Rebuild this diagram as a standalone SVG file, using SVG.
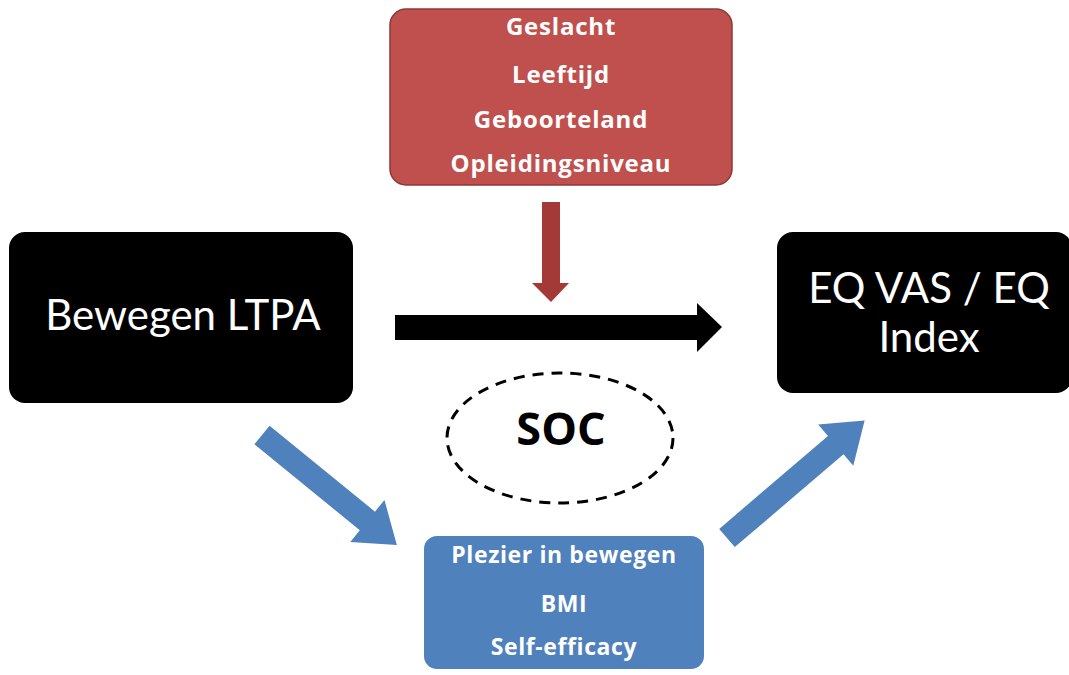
<svg xmlns="http://www.w3.org/2000/svg" width="1069" height="675" viewBox="0 0 1069 675">
<style>
.reg{font-family:Lato,"Open Sans","Liberation Sans",sans-serif;fill:#ffffff;text-anchor:middle}
.bold{font-family:"Open Sans",Lato,"Liberation Sans",sans-serif;font-weight:bold;fill:#ffffff;text-anchor:middle}
.blk{fill:#000000}
.blue{fill:#4f81bd}
</style>
<rect width="1069" height="675" fill="#ffffff"/>
<g id="confounders">
<rect x="390" y="9" width="342" height="176" rx="16" fill="#c0504d" stroke="#8c3836" stroke-width="1.5"/>
<text class="bold" x="561" y="35" font-size="24" letter-spacing="0.8">Geslacht</text>
<text class="bold" x="561" y="83" font-size="24" letter-spacing="0.8">Leeftijd</text>
<text class="bold" x="561" y="128" font-size="24" letter-spacing="0.8">Geboorteland</text>
<text class="bold" x="561" y="172" font-size="24" letter-spacing="0.8">Opleidingsniveau</text>
</g>
<g id="ltpa">
<rect x="9" y="232" width="344" height="171" rx="16" class="blk"/>
<text class="reg" x="183" y="330" font-size="42">Bewegen LTPA</text>
</g>
<g id="eq">
<rect x="777" y="232" width="295" height="161" rx="16" class="blk"/>
<text class="reg" x="929" y="303" font-size="42">EQ VAS / EQ</text>
<text class="reg" x="929" y="352" font-size="42">Index</text>
</g>
<g id="soc">
<ellipse cx="560" cy="438" rx="113" ry="65" fill="none" stroke="#000" stroke-width="3" stroke-dasharray="11,8"/>
<text x="561" y="445" font-size="45" font-weight="bold" font-family="'Open Sans',Lato,'Liberation Sans',sans-serif" text-anchor="middle" fill="#000">SOC</text>
</g>
<g id="mediators">
<rect x="423" y="535" width="282" height="135" rx="14" class="blue" stroke="#ffffff" stroke-width="2"/>
<text class="bold" x="564" y="563" font-size="23" letter-spacing="0.6">Plezier in bewegen</text>
<text class="bold" x="564" y="612" font-size="23" letter-spacing="0.6">BMI</text>
<text class="bold" x="564" y="655" font-size="23" letter-spacing="0.6">Self-efficacy</text>
</g>
<g id="connectors">
<path d="M542,202 H560 V283 H569 L551,302 L532,283 H542 Z" fill="#a33a37"/>
<path d="M395,315 H697 V303 L722,327 L697,352 V340 H395 Z" fill="#000"/>
<path transform="translate(262,435) rotate(39.2)" d="M0,-12 H136 V-27 L174,0 L136,27 V12 H0 Z" class="blue"/>
<path transform="translate(727,538) rotate(-40.5)" d="M0,-12 H143 V-27 L181,0 L143,27 V12 H0 Z" class="blue"/>
</g>
</svg>
